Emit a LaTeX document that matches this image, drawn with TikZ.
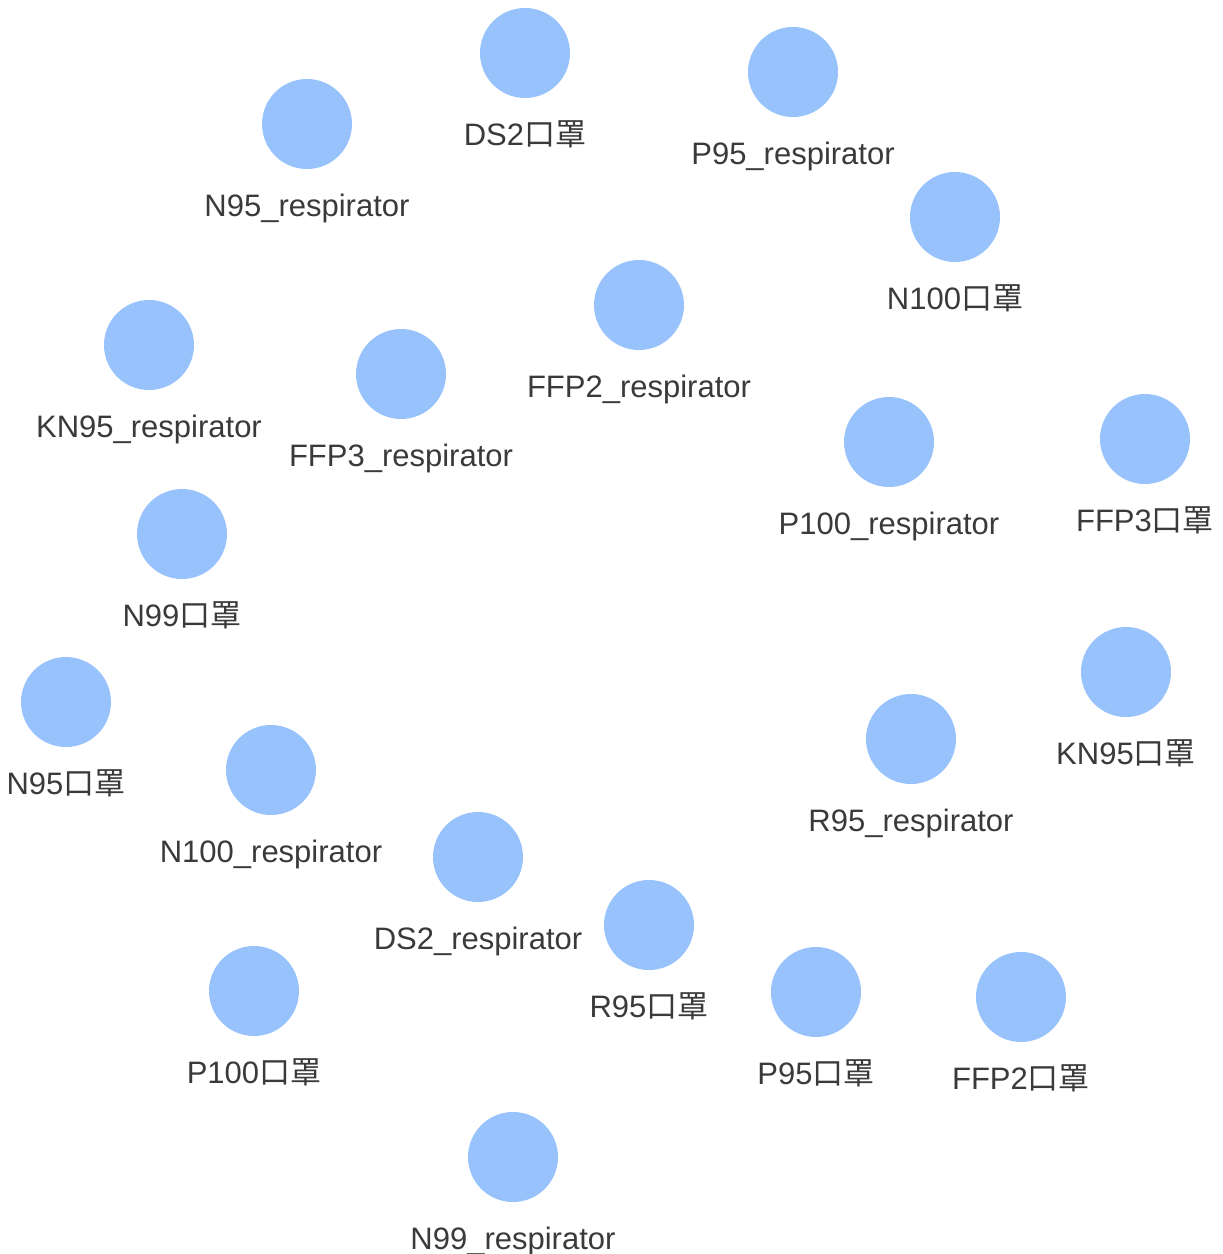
\documentclass[tikz,border=0pt]{standalone}
\usepackage{fontspec}
\setmainfont{Liberation Sans}
\newfontfamily\cjk{Noto Sans CJK SC}
\usepackage{tikz}
\usetikzlibrary{positioning}
\definecolor{maskblue}{HTML}{97C2FC}
\definecolor{labelgray}{HTML}{3A3A3A}
\tikzset{
	mask/.style={circle, fill=maskblue, draw=none, minimum size=90pt, inner sep=0pt},
	masklabel/.style={anchor=base, text=labelgray, inner sep=0pt, font=\fontsize{31}{36}\selectfont},
}
\newcommand{\kouzhao}{{\cjk 口罩}}

\begin{document}
\begin{tikzpicture}[x=1pt, y=-1pt]
		\useasboundingbox (0,0) rectangle (1223,1254);
		% nodes: x/y/name/label
		\foreach \x/\y/\n/\t in {
			525/53/ds2k/DS2\kouzhao,
			793/72/p95r/P95\_respirator,
			307/124/n95r/N95\_respirator,
			955/217/n100k/N100\kouzhao,
			639/305/ffp2r/FFP2\_respirator,
			149/345/kn95r/KN95\_respirator,
			401/374/ffp3r/FFP3\_respirator,
			889/442/p100r/P100\_respirator,
			1145/439/ffp3k/FFP3\kouzhao,
			182/534/n99k/N99\kouzhao,
			66/702/n95k/N95\kouzhao,
			1126/672/kn95k/KN95\kouzhao,
			911/739/r95r/R95\_respirator,
			271/770/n100r/N100\_respirator,
			478/857/ds2r/DS2\_respirator,
			649/925/r95k/R95\kouzhao,
			254/991/p100k/P100\kouzhao,
			816/992/p95k/P95\kouzhao,
			1021/997/ffp2k/FFP2\kouzhao,
			513/1157/n99r/N99\_respirator}
		{
			\node[mask] (\n) at (\x,\y) {};
			\node[masklabel] (\n-label) at ([yshift=-92pt]\n.center) {\t};
		}
	\end{tikzpicture}
\end{document}
